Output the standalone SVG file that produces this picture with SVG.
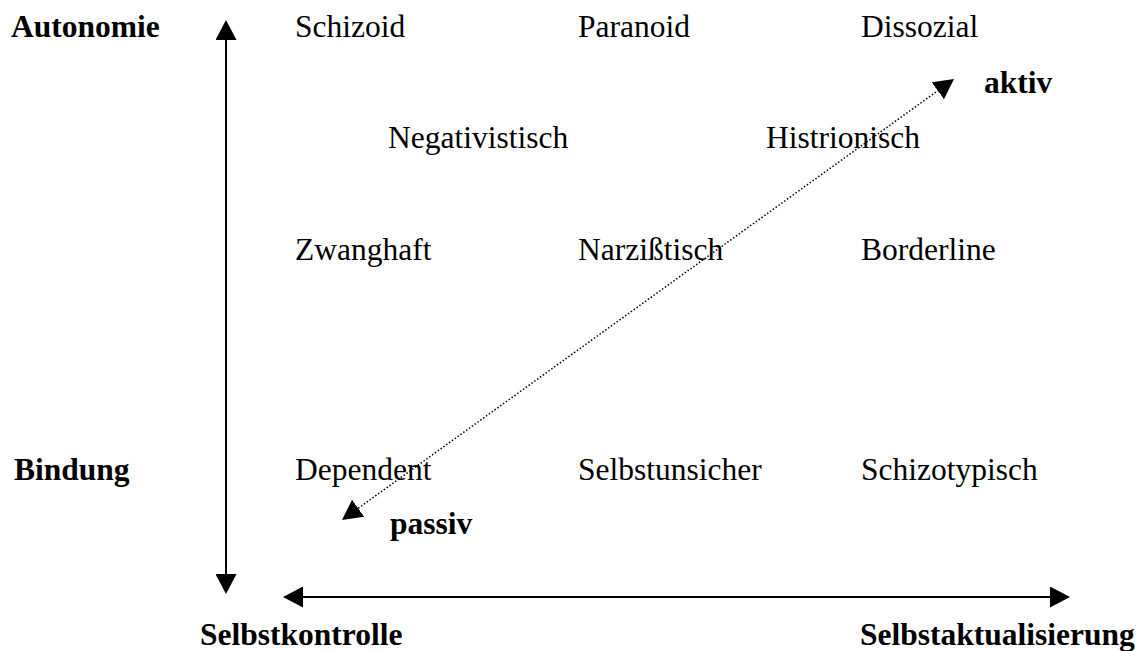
<svg xmlns="http://www.w3.org/2000/svg" width="1142" height="651" viewBox="0 0 1142 651">
  <style>
    .t { font-family: "Liberation Serif", "Times New Roman", serif; font-size: 31.5px; fill: #000; }
    .b { font-weight: bold; }
    .axis { stroke: #000; stroke-width: 2; fill: none; }
    .dot { stroke: #000; stroke-width: 1.5; stroke-dasharray: 1.5 2; fill: none; }
  </style>
  <defs>
    <marker id="ah" markerUnits="userSpaceOnUse" markerWidth="20" markerHeight="21" refX="0" refY="10.5" orient="auto-start-reverse" viewBox="0 0 20 21">
      <path d="M0,0 L20,10.5 L0,21 Z" fill="#000"/>
    </marker>
  </defs>
  <rect width="1142" height="651" fill="#fff"/>

  <g id="connectors">
    <line class="axis" x1="226" y1="40" x2="226" y2="574" marker-start="url(#ah)" marker-end="url(#ah)"/>
    <line class="axis" x1="303" y1="597" x2="1050" y2="597" marker-start="url(#ah)" marker-end="url(#ah)"/>
    <line class="dot" x1="358.2" y1="508.3" x2="937.8" y2="90.7" marker-start="url(#ah)" marker-end="url(#ah)"/>
  </g>

  <g id="axis-labels">
    <g id="autonomie"><text class="t b" x="11" y="37">Autonomie</text></g>
    <g id="bindung"><text class="t b" x="14" y="480">Bindung</text></g>
    <g id="selbstkontrolle"><text class="t b" x="200" y="645">Selbstkontrolle</text></g>
    <g id="selbstaktualisierung"><text class="t b" x="860" y="645">Selbstaktualisierung</text></g>
    <g id="aktiv"><text class="t b" x="984" y="93">aktiv</text></g>
    <g id="passiv"><text class="t b" x="390" y="534">passiv</text></g>
  </g>

  <g id="types">
    <g id="schizoid"><text class="t" x="295" y="37">Schizoid</text></g>
    <g id="paranoid"><text class="t" x="578" y="37">Paranoid</text></g>
    <g id="dissozial"><text class="t" x="861" y="37">Dissozial</text></g>
    <g id="negativistisch"><text class="t" x="388" y="148">Negativistisch</text></g>
    <g id="histrionisch"><text class="t" x="766" y="148">Histrionisch</text></g>
    <g id="zwanghaft"><text class="t" x="295" y="260">Zwanghaft</text></g>
    <g id="narzisstisch"><text class="t" x="578" y="260">Narzißtisch</text></g>
    <g id="borderline"><text class="t" x="861" y="260">Borderline</text></g>
    <g id="dependent"><text class="t" x="295" y="480">Dependent</text></g>
    <g id="selbstunsicher"><text class="t" x="578" y="480">Selbstunsicher</text></g>
    <g id="schizotypisch"><text class="t" x="861" y="480">Schizotypisch</text></g>
  </g>
</svg>
